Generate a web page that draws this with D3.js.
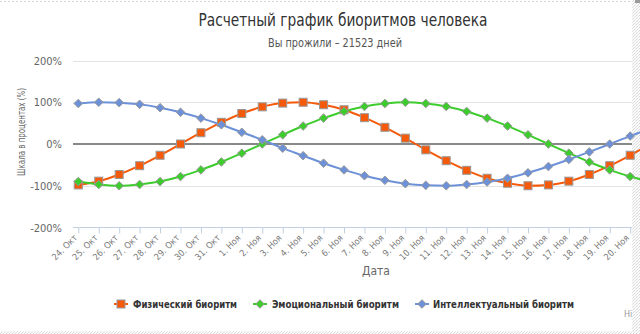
<!DOCTYPE html>
<html>
<head>
<meta charset="utf-8">
<script src="https://cdn.jsdelivr.net/npm/d3@7"></script>
<style>
  html, body { margin: 0; padding: 0; background: #fff; }
  svg { display: block; }
  text { font-family: "Liberation Sans Narrow", "DejaVu Sans Condensed", "Liberation Sans", sans-serif; }
</style>
</head>
<body>
<svg id="chart" width="640" height="334"></svg>
<script>
// Calendar days shown on the x axis
const categories = [
  "24. Окт", "25. Окт", "26. Окт", "27. Окт", "28. Окт", "29. Окт", "30. Окт", "31. Окт",
  "1. Ноя", "2. Ноя", "3. Ноя", "4. Ноя", "5. Ноя", "6. Ноя", "7. Ноя", "8. Ноя", "9. Ноя",
  "10. Ноя", "11. Ноя", "12. Ноя", "13. Ноя", "14. Ноя", "15. Ноя", "16. Ноя", "17. Ноя",
  "18. Ноя", "19. Ноя", "20. Ноя", "21. Ноя"
];

// Biorhythm values, percent
const physical = [-98, -89, -73, -52, -27, 0, 27, 52, 73, 89, 98, 100, 94, 82, 63, 40, 14,
  -14, -40, -63, -82, -94, -100, -98, -89, -73, -52, -27, 0];
const emotional = [-90, -97, -100, -97, -90, -78, -62, -43, -22, 0, 22, 43, 62, 78, 90, 97, 100,
  97, 90, 78, 62, 43, 22, 0, -22, -43, -62, -78, -90];
const intellectual = [97, 100, 99, 95, 87, 76, 62, 46, 28, 10, -10, -28, -46, -62, -76, -87, -95,
  -99, -100, -97, -91, -82, -69, -54, -37, -19, 0, 19, 37];

const yTicks = [-200, -100, 0, 100, 200];
const seriesNames = ["Физический биоритм", "Эмоциональный биоритм", "Интеллектуальный биоритм"];

const titleText = "Расчетный график биоритмов человека";
const subtitleText = "Вы прожили – 21523 дней";

const svg = d3.select("#chart");

const plotLeft = 73, plotRight = 632;

const x = d3.scalePoint().domain(categories).range([78.3, 78.3 + 20.44 * (categories.length - 1)]);
const y = d3.scaleLinear().domain([-200, 200]).range([227.5, 60.5]);

// Titles
svg.append("text").attr("x", 343).attr("y", 26).attr("text-anchor", "middle")
  .attr("font-size", 18).attr("fill", "#333")
  .attr("font-family", "\"Liberation Sans\", sans-serif")
  .attr("textLength", 289).attr("lengthAdjust", "spacingAndGlyphs")
  .text(titleText);
svg.append("text").attr("x", 335).attr("y", 47).attr("text-anchor", "middle")
  .attr("font-size", 12).attr("fill", "#555")
  .attr("textLength", 134).attr("lengthAdjust", "spacingAndGlyphs")
  .text(subtitleText);

// Horizontal grid lines
const grid = svg.append("g");
grid.selectAll("line").data(yTicks.filter(d => d !== 0 && d !== -200)).enter().append("line")
  .attr("x1", plotLeft).attr("x2", plotRight)
  .attr("y1", d => Math.round(y(d)) + 0.5).attr("y2", d => Math.round(y(d)) + 0.5)
  .attr("stroke", "#e4e4e4").attr("stroke-width", 1);

// Zero line
svg.append("line").attr("x1", plotLeft).attr("x2", plotRight)
  .attr("y1", y(0)).attr("y2", y(0))
  .attr("stroke", "#888").attr("stroke-width", 2);

// Y axis labels
const yAxis = d3.axisLeft(y).tickValues(yTicks).tickSize(0).tickPadding(0)
  .tickFormat(d => d + "%");
const yg = svg.append("g").attr("transform", `translate(${62},0)`).call(yAxis);
yg.select(".domain").remove();
yg.selectAll("text").attr("font-size", 11).attr("fill", "#666")
  .attr("font-family", "\"Liberation Sans Narrow\", \"DejaVu Sans Condensed\", sans-serif");

svg.append("text")
  .attr("transform", "translate(25,132) rotate(-90)")
  .attr("text-anchor", "middle").attr("font-size", 11).attr("fill", "#666")
  .attr("textLength", 88).attr("lengthAdjust", "spacingAndGlyphs")
  .text("Шкала в процентах (%)");

// X axis: the last day runs past the visible edge, so it gets no label
const xAxis = d3.axisBottom(x).tickValues(categories.slice(0, -1)).tickSize(6).tickPadding(3);
const xg = svg.append("g").attr("transform", `translate(0,${227.5})`).call(xAxis);
xg.select(".domain").attr("d", `M${plotLeft},0H${plotRight}`).attr("stroke", "#c0d0e0");
xg.selectAll(".tick line").attr("stroke", "#c0d0e0");
xg.selectAll(".tick text")
  .attr("font-size", 9).attr("fill", "#777")
  .attr("text-anchor", "end")
  .attr("dy", null).attr("y", 0)
  .attr("transform", "translate(-1,11) rotate(-45)");

svg.append("text").attr("x", 376).attr("y", 275).attr("text-anchor", "middle")
  .attr("font-size", 12).attr("fill", "#666").text("Дата");

// Page background texture along the right and bottom edges
const defs = svg.append("defs");
const pat = defs.append("pattern").attr("id", "grain")
  .attr("width", 3).attr("height", 3).attr("patternUnits", "userSpaceOnUse");
pat.append("rect").attr("width", 3).attr("height", 3).attr("fill", "#fafafa");
pat.append("rect").attr("x", 0).attr("y", 0).attr("width", 1).attr("height", 1).attr("fill", "#d8d8d8");
pat.append("rect").attr("x", 2).attr("y", 1).attr("width", 1).attr("height", 1).attr("fill", "#e4e4e4");
pat.append("rect").attr("x", 1).attr("y", 2).attr("width", 1).attr("height", 1).attr("fill", "#dcdcdc");

svg.append("rect").attr("x", 632).attr("y", 0).attr("width", 8).attr("height", 334).attr("fill", "url(#grain)");
svg.append("rect").attr("x", 0).attr("y", 331).attr("width", 640).attr("height", 3).attr("fill", "url(#grain)");
svg.append("line").attr("x1", 0).attr("x2", 632).attr("y1", 1.5).attr("y2", 1.5)
  .attr("stroke", "#d8d8d8").attr("stroke-dasharray", "2,2");
svg.append("rect").attr("x", 635).attr("y", 0).attr("width", 5).attr("height", 3).attr("fill", "#9a9a9a");

// Series
const series = [
  { name: seriesNames[0], values: physical, color: "#f55a0a", marker: "square" },
  { name: seriesNames[1], values: emotional, color: "#3ccc2c", marker: "diamond" },
  { name: seriesNames[2], values: intellectual, color: "#6d91d8", marker: "diamond" }
];

const line = d3.line()
  .x((d, i) => x(categories[i]))
  .y(d => y(d))
  .curve(d3.curveMonotoneX);

function drawMarker(g, type, cx, cy, color, size) {
  if (type === "square") {
    g.append("rect").attr("x", cx - size / 2).attr("y", cy - size / 2)
      .attr("width", size).attr("height", size)
      .attr("fill", color).attr("stroke", "#999").attr("stroke-width", 1);
  } else {
    const r = size / 2 + 0.8;
    g.append("path").attr("d", `M${cx},${cy - r}L${cx + r},${cy}L${cx},${cy + r}L${cx - r},${cy}Z`)
      .attr("fill", color).attr("stroke", "#999").attr("stroke-width", 1);
  }
}

series.forEach(s => {
  svg.append("path").datum(s.values).attr("d", line)
    .attr("fill", "none").attr("stroke", s.color).attr("stroke-width", 2);
});
series.forEach(s => {
  const g = svg.append("g");
  s.values.forEach((v, i) => drawMarker(g, s.marker, x(categories[i]), y(v), s.color, s.marker === "square" ? 8 : 7));
});

// Legend
const legendItems = [
  { sx: 121, tx: 133, w: 104 },
  { sx: 260, tx: 272, w: 127 },
  { sx: 422, tx: 433, w: 141 }
];
series.forEach((s, i) => {
  const it = legendItems[i];
  const g = svg.append("g");
  g.append("line").attr("x1", it.sx - 7).attr("x2", it.sx + 7).attr("y1", 304).attr("y2", 304)
    .attr("stroke", s.color).attr("stroke-width", 2);
  drawMarker(g, s.marker, it.sx, 304, s.color, s.marker === "square" ? 8 : 7);
  g.append("text").attr("x", it.tx).attr("y", 308).attr("font-size", 11)
    .attr("font-weight", "bold").attr("fill", "#333")
    .attr("textLength", it.w).attr("lengthAdjust", "spacingAndGlyphs")
    .text(s.name);
});

// Credits, cut off by the page edge texture
svg.append("text").attr("x", 624).attr("y", 317).attr("font-size", 9).attr("fill", "#999").text("Hi");
svg.append("rect").attr("x", 632).attr("y", 305).attr("width", 8).attr("height", 20).attr("fill", "url(#grain)");
</script>
</body>
</html>
